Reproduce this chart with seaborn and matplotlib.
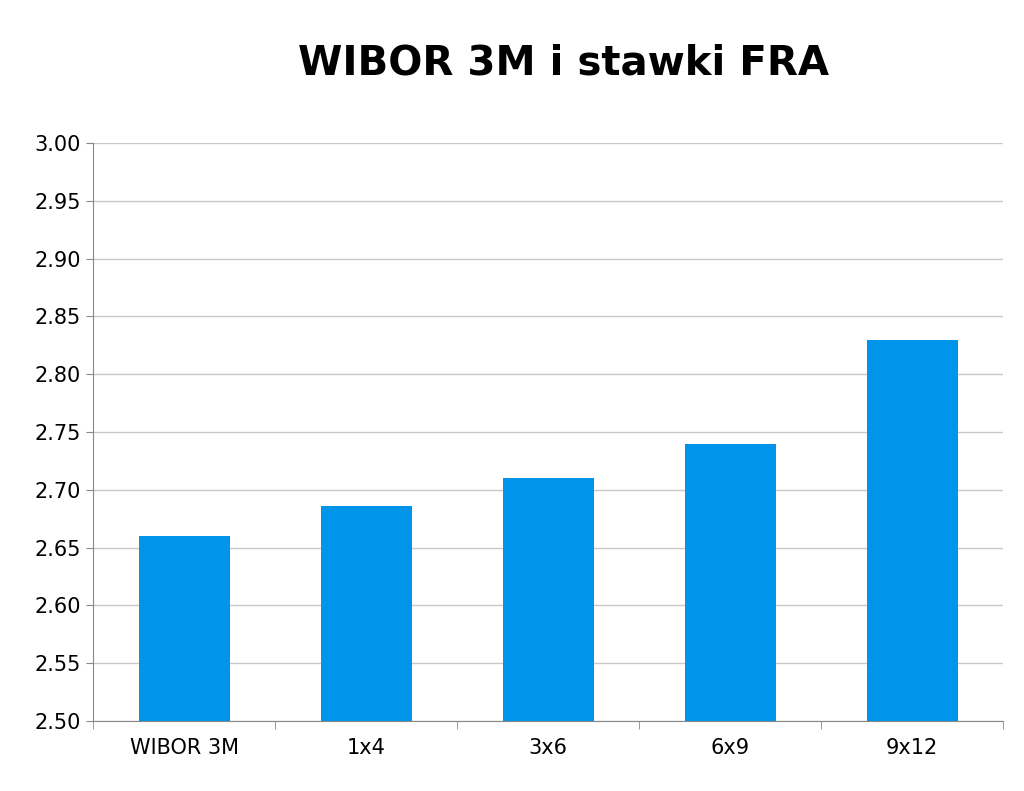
import matplotlib
matplotlib.use("Agg")
import matplotlib.pyplot as plt
import seaborn as sns
import pandas as pd
import numpy as np

categories = ["WIBOR 3M", "1x4", "3x6", "6x9", "9x12"]
values = [2.66, 2.686, 2.71, 2.74, 2.83]
yticks = [2.50, 2.55, 2.60, 2.65, 2.70, 2.75, 2.80, 2.85, 2.90, 2.95, 3.00]

df = pd.DataFrame({"cat": categories, "val": values})
fig = plt.figure(figsize=(10.24, 7.91), dpi=100)
ax = fig.add_axes([93/1024, 1-721/791, 910/1024, 578/791])
sns.barplot(data=df, x="cat", y="val", color="#0094EA", saturation=1, width=0.5, ax=ax)
ax.set_ylim(2.5, 3.0)
ax.set_yticks(yticks)
ax.set_yticklabels([f"{t:.2f}" for t in yticks], fontsize=15)
ax.set_xticks(range(len(categories)))
ax.set_xticklabels(["WIBOR 3M", "1x4", "3x6", "6x9", "9x12"], fontsize=15)
ax.tick_params(axis="x", length=0, pad=12)
ax.tick_params(axis="y", length=5, color="#888888")
ax.set_xticks(np.arange(-0.5, len(categories), 1), minor=True)
ax.tick_params(axis="x", which="minor", length=6, color="#888888")
ax.set_xlabel("")
ax.set_ylabel("")
ax.grid(axis="y", color="#c8c8c8", linewidth=1)
ax.set_axisbelow(True)
for s in ["top", "right"]:
    ax.spines[s].set_visible(False)
for s in ["left", "bottom"]:
    ax.spines[s].set_color("#888888")
fig.text(0.55, 0.92, "WIBOR 3M i stawki FRA", ha="center", va="center",
         fontsize=29, fontweight="bold")
fig.savefig("out.png", dpi=100)
